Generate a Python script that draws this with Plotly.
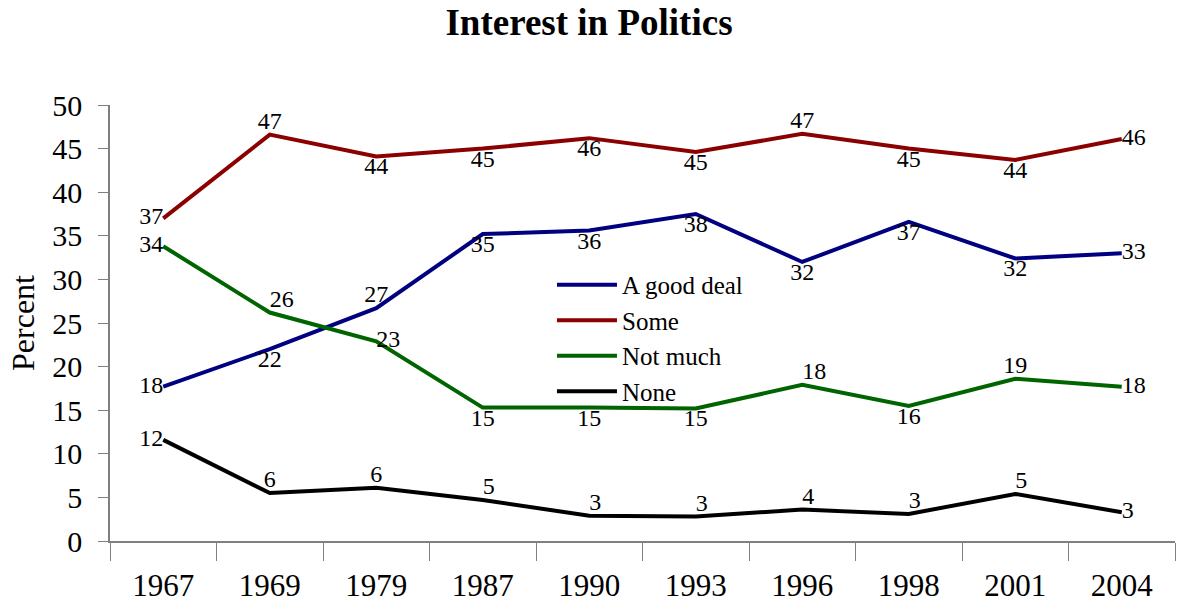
import plotly.graph_objects as go

years = ["1967", "1969", "1979", "1987", "1990", "1993", "1996", "1998", "2001", "2004"]
good_deal = [17.7, 22.0, 26.7, 35.2, 35.6, 37.5, 32.0, 36.6, 32.4, 33.0]
some = [37.0, 46.6, 44.1, 45.0, 46.2, 44.6, 46.7, 45.0, 43.7, 46.1]
not_much = [33.8, 26.2, 22.9, 15.3, 15.3, 15.2, 17.9, 15.5, 18.6, 17.7]
none = [11.6, 5.5, 6.1, 4.7, 2.9, 2.8, 3.6, 3.1, 5.4, 3.3]

series = [
    ("A good deal", good_deal, "#000080",
     ["middle left", "bottom center", "top center", "bottom center", "bottom center",
      "bottom center", "bottom center", "bottom center", "bottom center", "middle right"]),
    ("Some", some, "#8B0000",
     ["middle left", "top center", "bottom center", "bottom center", "bottom center",
      "bottom center", "top center", "bottom center", "bottom center", "middle right"]),
    ("Not much", not_much, "#006400",
     ["middle left", "top right", "middle right", "bottom center", "bottom center",
      "bottom center", "top right", "bottom center", "top center", "middle right"]),
    ("None", none, "#000000",
     ["middle left", "top center", "top center", "top right", "top right",
      "top right", "top right", "top right", "top right", "middle right"]),
]

FONT = "Liberation Serif, Times New Roman, serif"

fig = go.Figure()
for name, vals, color, pos in series:
    fig.add_trace(go.Scatter(
        x=years, y=vals, name=name, mode="lines+text",
        line=dict(color=color, width=4),
        texttemplate="%{y:.0f}", textposition=pos,
        textfont=dict(family=FONT, size=24, color="black"),
        cliponaxis=False,
    ))

fig.update_layout(
    width=1178, height=605,
    margin=dict(l=110, r=3, t=105, b=64),
    paper_bgcolor="white", plot_bgcolor="white",
    font=dict(family=FONT, color="black"),
    title=dict(text="<b>Interest in Politics</b>", x=0.5, xanchor="center",
               y=0.964, yanchor="middle", font=dict(family=FONT, size=37, color="black")),
    showlegend=True,
    legend=dict(x=0.415, y=0.64, xanchor="left", yanchor="top",
                font=dict(family=FONT, size=25, color="black"), itemwidth=60,
                bgcolor="rgba(0,0,0,0)", borderwidth=0, tracegroupgap=0),
)
fig.update_xaxes(
    type="category", range=[-0.5, 9.5], showgrid=False,
    showline=True, linecolor="#808080", linewidth=1.5,
    ticks="outside", tickson="boundaries", ticklen=18, tickcolor="#808080", tickwidth=1,
    tickfont=dict(family=FONT, size=31, color="black"), ticklabelstandoff=16,
)
fig.update_yaxes(
    range=[0, 50], dtick=5, showgrid=False, zeroline=False,
    showline=True, linecolor="#808080", linewidth=1.5,
    ticks="outside", ticklen=10, tickcolor="#808080", tickwidth=1,
    tickfont=dict(family=FONT, size=30, color="black"), ticklabelstandoff=10,
    title=dict(text="Percent", font=dict(family=FONT, size=32, color="black"), standoff=8),
)

fig.write_html("out.html", config={"displayModeBar": False},
               post_script="document.body.style.margin='0';")
